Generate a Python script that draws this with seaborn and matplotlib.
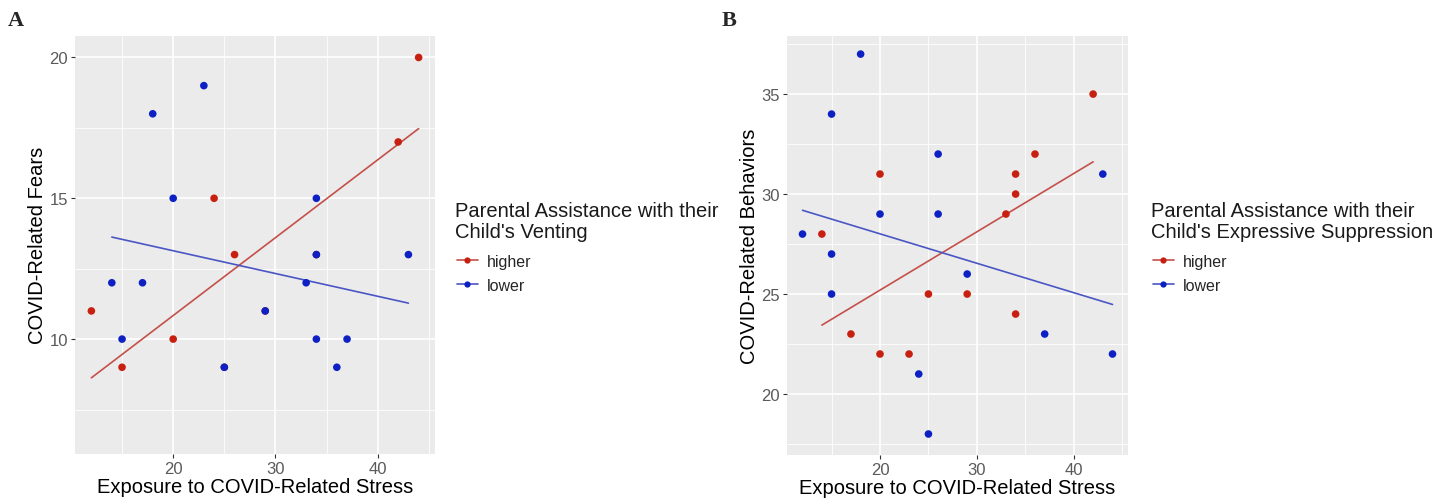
import pandas as pd
import matplotlib.pyplot as plt
import seaborn as sns
from matplotlib.lines import Line2D
from matplotlib.ticker import MultipleLocator

# data
# (the last three "higher" points in A sit under blue points of the same position)
a_high_x = [12, 15, 20, 24, 26, 42, 44, 25, 29, 34]
a_high_y = [11, 9, 10, 15, 13, 17, 20, 9, 11, 13]
a_low_x = [14, 15, 17, 18, 20, 23, 25, 29, 33, 34, 34, 34, 36, 37, 43]
a_low_y = [12, 10, 12, 18, 15, 19, 9, 11, 12, 15, 13, 10, 9, 10, 13]

b_high_x = [14, 17, 20, 20, 23, 25, 29, 33, 34, 34, 34, 36, 42]
b_high_y = [28, 23, 31, 22, 22, 25, 25, 29, 31, 30, 24, 32, 35]
b_low_x = [12, 15, 15, 15, 18, 20, 24, 25, 26, 26, 29, 37, 43, 44]
b_low_y = [28, 34, 27, 25, 37, 29, 21, 18, 32, 29, 26, 23, 31, 22]

groups = ["higher", "lower"]
pt_colors = {"higher": "#C82010", "lower": "#0C20C4"}
ln_colors = {"higher": "#C4504A", "lower": "#4A56C4"}

sns.set_theme(style="white")
plt.rcParams["font.family"] = ["Liberation Sans", "DejaVu Sans"]

df_a = pd.DataFrame({"x": a_high_x + a_low_x, "y": a_high_y + a_low_y,
                     "g": ["higher"] * len(a_high_x) + ["lower"] * len(a_low_x)})
df_b = pd.DataFrame({"x": b_high_x + b_low_x, "y": b_high_y + b_low_y,
                     "g": ["higher"] * len(b_high_x) + ["lower"] * len(b_low_x)})

fig = plt.figure(figsize=(14.48, 5.02), dpi=100)
ax_a = fig.add_axes([75 / 1448, 47 / 502, 360 / 1448, 418.5 / 502])
ax_b = fig.add_axes([787 / 1448, 46 / 502, 341 / 1448, 419.5 / 502])


def panel(ax, df, ylabel, ylim, title, leg_x):
    ax.set_facecolor("#EBEBEB")
    for g in groups:
        sub = df[df["g"] == g]
        sns.regplot(data=sub, x="x", y="y", ax=ax, scatter=False, ci=None,
                    truncate=True, line_kws={"color": ln_colors[g], "lw": 1.2})
    for g in groups:
        sub = df[df["g"] == g]
        sns.scatterplot(data=sub, x="x", y="y", color=pt_colors[g], ax=ax,
                        s=30, edgecolor="none", legend=False, zorder=3)
    ax.set_xlim(10.4, 45.6)
    ax.set_ylim(*ylim)
    ax.xaxis.set_major_locator(MultipleLocator(10))
    ax.xaxis.set_minor_locator(MultipleLocator(5))
    ax.yaxis.set_major_locator(MultipleLocator(5))
    ax.yaxis.set_minor_locator(MultipleLocator(2.5))
    ax.grid(which="major", color="white", lw=1.2)
    ax.grid(which="minor", color="white", lw=0.6)
    ax.set_axisbelow(True)
    for s in ax.spines.values():
        s.set_visible(False)
    ax.tick_params(which="major", length=3, width=0.8, color="#333333",
                   labelcolor="#5A5A5A", labelsize=12, bottom=True, left=True, pad=2)
    ax.tick_params(which="minor", length=0)
    ax.set_xlabel("Exposure to COVID-Related Stress", fontsize=14.5, color="black", labelpad=1)
    ax.set_ylabel(ylabel, fontsize=14.5, color="black", labelpad=2)

    # legend: title as text, keys as a legend without title
    fig.text(leg_x, 1 - 202 / 502, title, fontsize=14.5, color="#1A1A1A",
             va="top", ha="left", linespacing=1.15)
    handles = [Line2D([], [], color=ln_colors[g], marker="o", markersize=4.5,
                      markerfacecolor=pt_colors[g], markeredgewidth=0, lw=1.2)
               for g in groups]
    ax.legend(handles, groups, loc="upper left",
              bbox_to_anchor=(leg_x + 2 / 1448, 1 - 255 / 502),
              bbox_transform=fig.transFigure, frameon=False, fontsize=11.5,
              borderpad=0, borderaxespad=0, handlelength=1.3,
              handletextpad=0.6, labelspacing=0.55)


panel(ax_a, df_a, "COVID-Related Fears", (5.92, 20.78),
      "Parental Assistance with their\nChild's Venting", 455 / 1448)
panel(ax_b, df_b, "COVID-Related Behaviors", (16.95, 37.93),
      "Parental Assistance with their\nChild's Expressive Suppression", 1151 / 1448)

fig.text(8 / 1448, 1 - 26 / 502, "A", fontsize=16, fontweight="bold",
         family="Liberation Serif", va="baseline")
fig.text(722 / 1448, 1 - 26 / 502, "B", fontsize=16, fontweight="bold",
         family="Liberation Serif", va="baseline")

fig.savefig("out.png", dpi=100, facecolor="white")
